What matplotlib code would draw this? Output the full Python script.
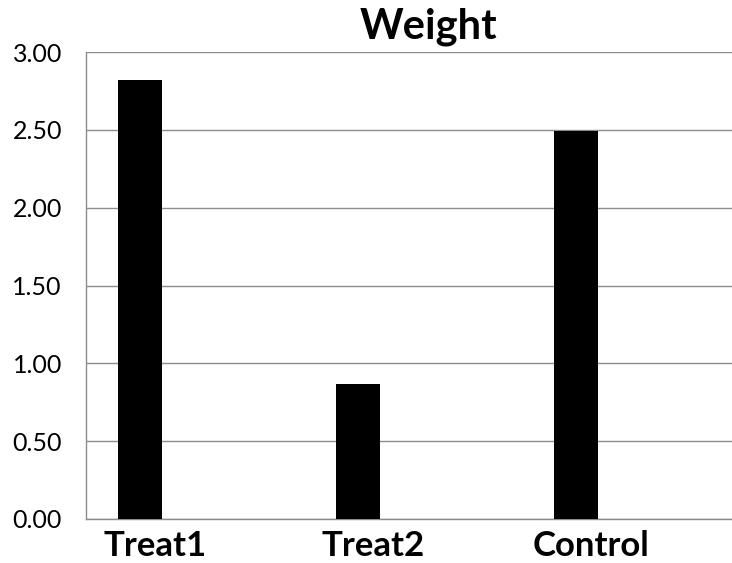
import matplotlib
matplotlib.use("Agg")
import matplotlib.pyplot as plt
import numpy as np

plt.rcParams['font.family'] = ['Lato', 'DejaVu Sans']

categories = ["Treat1", "Treat2", "Control"]
weights = [2.82, 0.865, 2.49]
y_ticks = [0.0, 0.5, 1.0, 1.5, 2.0, 2.5, 3.0]

W, H = 732, 563
fig = plt.figure(figsize=(W / 100, H / 100), dpi=100)
ax = fig.add_axes([85.5 / W, 44 / H, (W - 85.5) / W, 467 / H])

x = np.arange(len(categories))
ax.bar(x, weights, width=0.2, color="black", zorder=3)

ax.set_xlim(-0.249, 2.715)
ax.set_ylim(0, 3.0)
ax.set_yticks(y_ticks)
ax.set_yticklabels([f"{v:.2f}" for v in y_ticks], fontsize=18)
ax.set_xticks(x + 0.07)
ax.set_xticklabels(categories, fontsize=25, fontweight="bold")
ax.tick_params(axis="both", length=0)
ax.tick_params(axis="y", pad=17)
ax.tick_params(axis="x", pad=8)

ax.grid(axis="y", color="#8c8c8c", linewidth=1.0, zorder=0)
for side in ("top", "right"):
    ax.spines[side].set_visible(False)
for side in ("left", "bottom"):
    ax.spines[side].set_color("#8c8c8c")
    ax.spines[side].set_linewidth(1.0)

fig.text(428 / W, (H - 39) / H, "Weight", ha="center", va="baseline",
         fontsize=30, fontweight="bold")

fig.savefig("out.png", dpi=100)
